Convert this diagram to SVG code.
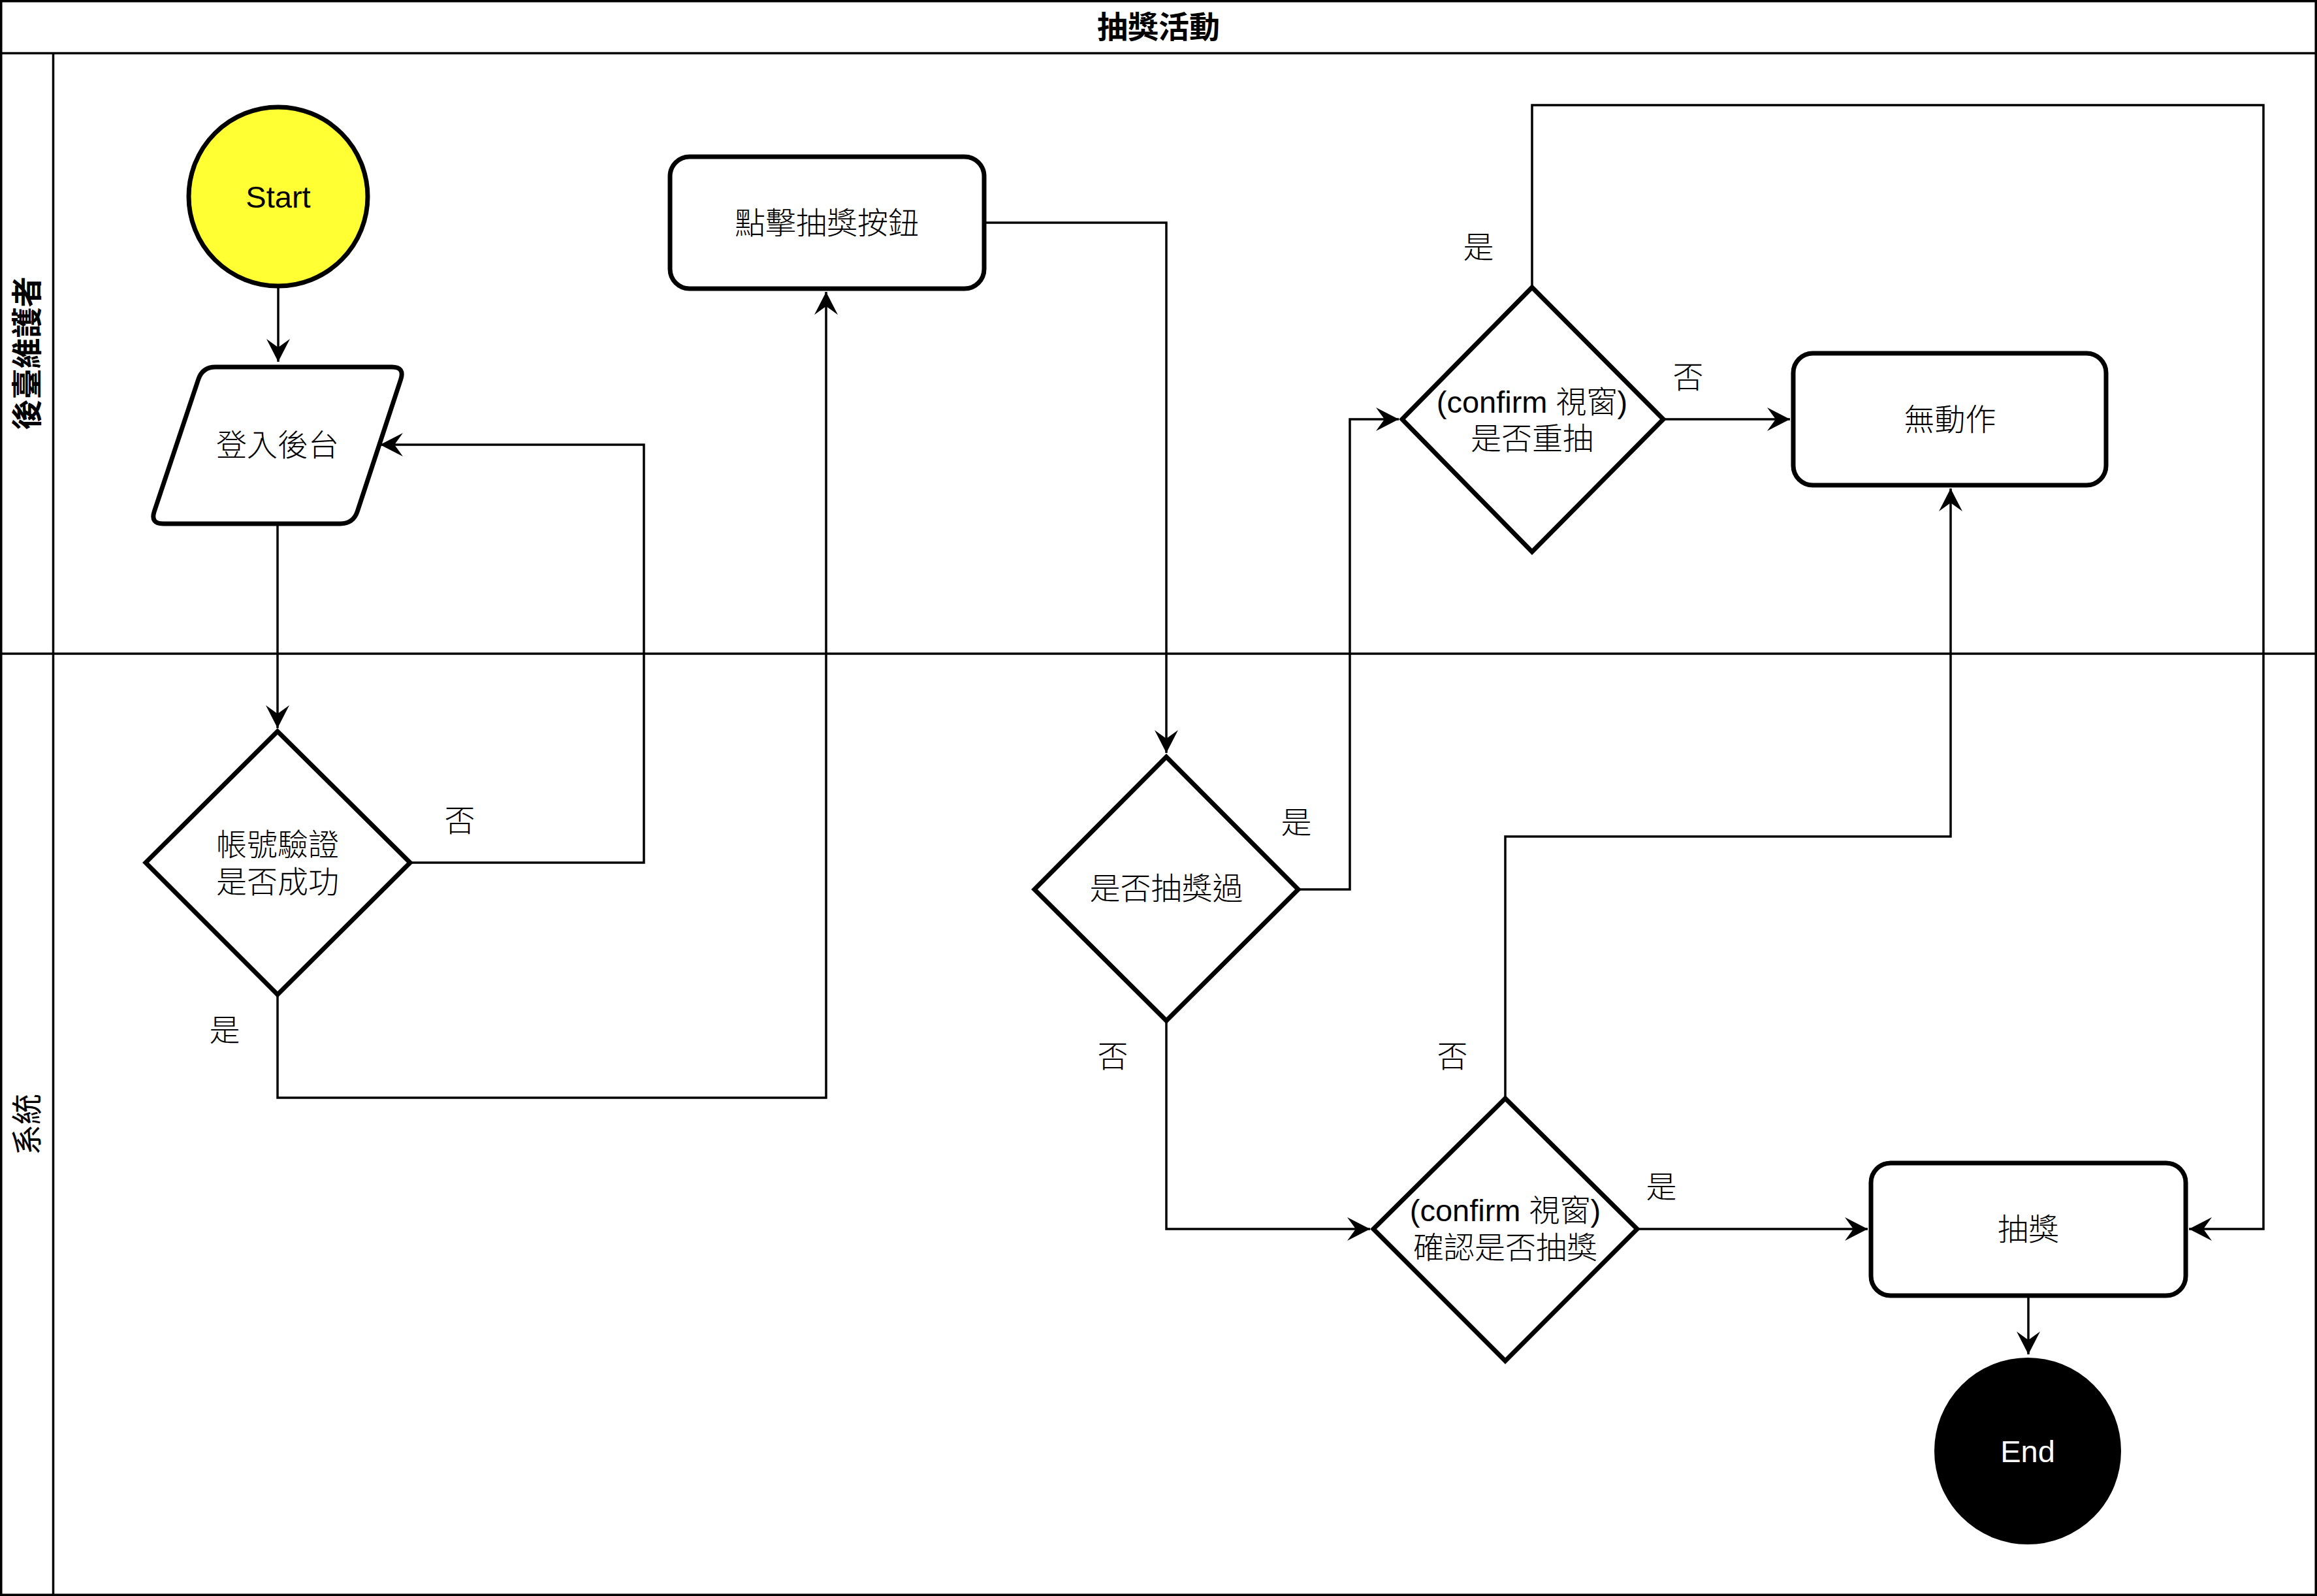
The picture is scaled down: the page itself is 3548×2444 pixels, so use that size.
<svg xmlns="http://www.w3.org/2000/svg" width="3548" height="2444" viewBox="0 0 3548 2444">
<style>
.frame{fill:none;stroke:#000;stroke-width:3.5}
.shape{fill:#fff;stroke:#000;stroke-width:7;stroke-linejoin:miter}
.edge{fill:none;stroke:#000;stroke-width:3.5}
.t{font-family:"Liberation Sans","Noto Sans CJK TC",sans-serif;font-size:47px;font-weight:300;text-anchor:middle;dominant-baseline:central;fill:#000}
.lbl{font-family:"Liberation Sans","Noto Sans CJK TC",sans-serif;font-size:47px;font-weight:300;text-anchor:middle;dominant-baseline:central;fill:#000}
.b{font-weight:bold}
.n{font-weight:normal}
</style>
<defs>
<marker id="arr" markerUnits="userSpaceOnUse" markerWidth="40" markerHeight="40" refX="35" refY="18" orient="auto">
<path d="M35,18 L0,0 L13,18 L0,36 Z" fill="#000"/>
</marker>
</defs>
<rect width="3548" height="2444" fill="#fff"/>
<g id="pool">
<rect class="frame" x="1.75" y="1.75" width="3544.5" height="2440.5"/>
<line class="frame" x1="0" y1="81.5" x2="3548" y2="81.5"/>
<line class="frame" x1="0" y1="1001" x2="3548" y2="1001"/>
<line class="frame" x1="81.5" y1="81.5" x2="81.5" y2="2442"/>
<text class="t b" x="1774" y="41">抽獎活動</text>
<text class="t b" transform="translate(41,541) rotate(-90)">後臺維護者</text>
<text class="t n" transform="translate(41,1722) rotate(-90)">系統</text>
</g>
<g id="connectors">
<path class="edge" marker-end="url(#arr)" d="M426,441 V554"/>
<path class="edge" marker-end="url(#arr)" d="M425,802 V1115"/>
<path class="edge" marker-end="url(#arr)" d="M628,1321 H986 V681 H582"/>
<path class="edge" marker-end="url(#arr)" d="M425,1523 V1681 H1265 V447"/>
<path class="edge" marker-end="url(#arr)" d="M1507,341 H1786 V1153"/>
<path class="edge" marker-end="url(#arr)" d="M1988,1362 H2067 V642 H2142"/>
<path class="edge" marker-end="url(#arr)" d="M1786,1563 V1882 H2098"/>
<path class="edge" marker-end="url(#arr)" d="M2547,642 H2741"/>
<path class="edge" marker-end="url(#arr)" d="M2346,440 V161 H3466 V1882 H3352"/>
<path class="edge" marker-end="url(#arr)" d="M2305,1682 V1281 H2987 V748"/>
<path class="edge" marker-end="url(#arr)" d="M2507,1882 H2860"/>
<path class="edge" marker-end="url(#arr)" d="M3106,1984 V2074"/>
<text class="lbl" x="704" y="1256">否</text>
<text class="lbl" x="344" y="1577">是</text>
<text class="lbl" x="1985" y="1259">是</text>
<text class="lbl" x="1704" y="1617">否</text>
<text class="lbl" x="2264" y="378">是</text>
<text class="lbl" x="2585" y="577">否</text>
<text class="lbl" x="2224" y="1617">否</text>
<text class="lbl" x="2544" y="1817">是</text>
</g>
<g id="start">
<circle cx="426" cy="301" r="137" fill="#FFFF33" stroke="#000" stroke-width="7"/>
<text class="t n" x="426" y="301">Start</text>
</g>
<g id="login">
<path class="shape" d="M330,562 H600 Q620,562 613.7,581 L547.3,783 Q541,802 521,802 H250 Q230,802 236.3,783 L303.7,581 Q310,562 330,562 Z"/>
<text class="t" x="425" y="681">登入後台</text>
</g>
<g id="verify">
<polygon class="shape" points="425,1120 628,1321 425,1523 223,1321"/>
<text class="t" x="425" y="1293">帳號驗證</text>
<text class="t" x="425" y="1350">是否成功</text>
</g>
<g id="clickBtn">
<rect class="shape" x="1026" y="240" width="481" height="202" rx="30"/>
<text class="t" x="1266" y="341">點擊抽獎按鈕</text>
</g>
<g id="drawnBefore">
<polygon class="shape" points="1786,1159 1988,1362 1786,1563 1584,1362"/>
<text class="t" x="1786" y="1360">是否抽獎過</text>
</g>
<g id="confirmRedraw">
<polygon class="shape" points="2346,440 2547,642 2346,845 2147,642"/>
<text class="t" x="2346" y="615">(confirm 視窗)</text>
<text class="t" x="2346" y="671">是否重抽</text>
</g>
<g id="noAction">
<rect class="shape" x="2746" y="541" width="479" height="202" rx="30"/>
<text class="t" x="2986" y="642">無動作</text>
</g>
<g id="confirmDraw">
<polygon class="shape" points="2305,1682 2507,1882 2305,2084 2103,1882"/>
<text class="t" x="2305" y="1853">(confirm 視窗)</text>
<text class="t" x="2305" y="1910">確認是否抽獎</text>
</g>
<g id="draw">
<rect class="shape" x="2865" y="1781" width="482" height="203" rx="30"/>
<text class="t" x="3106" y="1882">抽獎</text>
</g>
<g id="end">
<circle cx="3105" cy="2222" r="141" fill="#000" stroke="#000" stroke-width="4"/>
<text class="t n" x="3105" y="2222" style="fill:#fff">End</text>
</g>
</svg>
